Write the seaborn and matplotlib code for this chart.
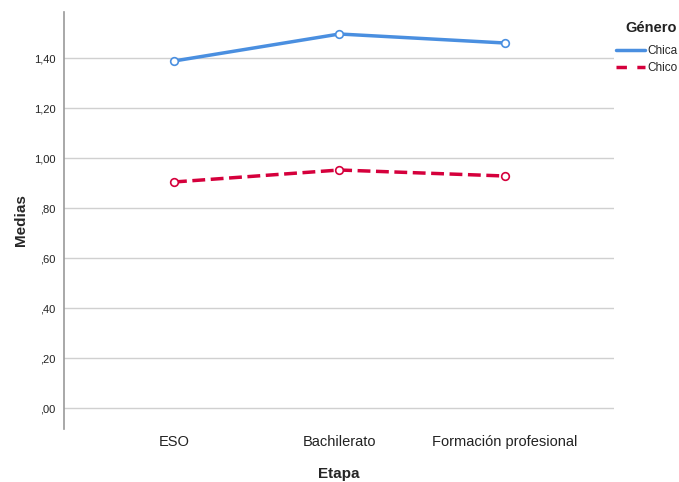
import pandas as pd
import matplotlib
matplotlib.use("Agg")
import matplotlib.pyplot as plt
import seaborn as sns
from matplotlib.lines import Line2D

# Data
etapas = ["ESO", "Bachilerato", "Formación profesional"]
chica = [1.388, 1.496, 1.460]
chico = [0.904, 0.952, 0.928]
y_ticks = [0.0, 0.2, 0.4, 0.6, 0.8, 1.0, 1.2, 1.4]
y_tick_labels = [",00", ",20", ",40", ",60", ",80", "1,00", "1,20", "1,40"]

df = pd.DataFrame({
    "Etapa": etapas * 2,
    "Medias": chica + chico,
    "Género": ["Chica"] * 3 + ["Chico"] * 3,
})

sns.set_style("white")
plt.rcParams["font.family"] = ["Liberation Sans", "DejaVu Sans"]

fig = plt.figure(figsize=(6.79, 4.82), dpi=100)
ax = fig.add_axes([64 / 679, 53 / 482, 550 / 679, 417 / 482])

palette = {"Chica": "#4A8FE0", "Chico": "#D5003C"}
sns.pointplot(data=df, x="Etapa", y="Medias", hue="Género", palette=palette,
              linestyles=["-", "--"], markers=["o", "o"], ax=ax, legend=False)

# lines styled like SPSS
for line in ax.lines:
    line.set_linewidth(2.5)
    line.set_markersize(5.5)
    line.set_markerfacecolor("white")
    line.set_markeredgewidth(1.2)
ax.lines[1].set_dashes([5, 3.5])

ax.set_xlim(-0.665, 2.66)
ax.set_ylim(-0.084, 1.584)
ax.set_yticks(y_ticks)
ax.set_yticklabels(y_tick_labels, fontsize=8, color="#222222")
ax.tick_params(axis="x", labelsize=10.5, colors="#222222", length=0, pad=4)
ax.tick_params(axis="y", length=0, pad=6)
ax.grid(axis="y", color="#d0d0d0", linewidth=1)
ax.set_axisbelow(True)

for s in ["top", "right", "bottom"]:
    ax.spines[s].set_visible(False)
ax.spines["left"].set_color("#999999")
ax.spines["left"].set_linewidth(1.2)

ax.set_xlabel("Etapa", fontsize=11, fontweight="bold", labelpad=13)
ax.set_ylabel("Medias", fontsize=11, fontweight="bold", labelpad=4)

# Legend outside on the right
fig.text(1 - 2 / 679, 1 - 28 / 482, "Género", ha="right", va="center",
         fontsize=10.5, fontweight="bold", color="#222222")
handles = [Line2D([], [], color=palette["Chica"], lw=2.5, ls="-"),
           Line2D([], [], color=palette["Chico"], lw=2.5, dashes=[3, 3])]
leg = fig.legend(handles, ["Chica", "Chico"],
                 loc="upper right", bbox_to_anchor=(1.0, 1 - 44 / 482),
                 frameon=False, fontsize=8.5, handlelength=2.4,
                 handletextpad=0.25, labelspacing=0.45, borderaxespad=0,
                 borderpad=0.1)

fig.savefig("out.png", dpi=100)
